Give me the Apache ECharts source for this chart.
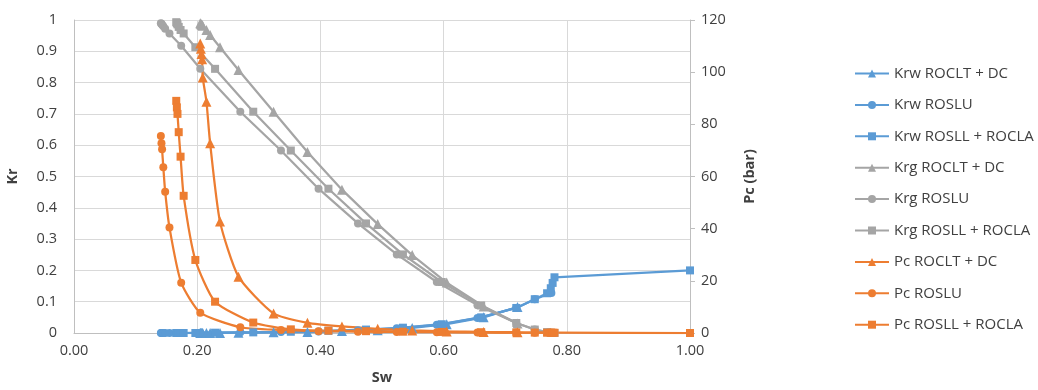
<!DOCTYPE html>
<html>
<head>
<meta charset="utf-8">
<script src="https://cdn.jsdelivr.net/npm/echarts@6/dist/echarts.min.js"></script>
<style>
  html, body { margin: 0; padding: 0; background: #fff; }
  #chart { width: 1038px; height: 390px; }
</style>
</head>
<body>
<div id="chart"></div>
<script>
// Saturation grids (Sw) for each test set
const swCLT = [0.205, 0.206, 0.207, 0.208, 0.209, 0.215, 0.221, 0.237, 0.267, 0.324, 0.379, 0.435, 0.493, 0.549, 0.605, 0.665, 0.720];
const swSLU = [0.141, 0.142, 0.143, 0.145, 0.148, 0.155, 0.174, 0.205, 0.270, 0.336, 0.397, 0.461, 0.524, 0.589, 0.655, 0.718, 0.748, 0.775];
const swSLL = [0.166, 0.167, 0.168, 0.170, 0.173, 0.178, 0.197, 0.229, 0.291, 0.352, 0.413, 0.474, 0.534, 0.597, 0.661, 0.718, 0.748, 0.768, 0.774, 0.777, 0.780, 1.000];

// Water relative permeability
const krwCLT = [0, 0, 0, 0, 0, 0, 0, 0, 0.001, 0.002, 0.003, 0.006, 0.009, 0.016, 0.028, 0.050, 0.083];
const krwSLU = [0, 0, 0, 0, 0, 0, 0, 0.001, 0.002, 0.003, 0.005, 0.009, 0.015, 0.026, 0.048, 0.080, 0.108, 0.128];
const krwSLL = [0, 0, 0, 0, 0, 0, 0, 0.001, 0.002, 0.004, 0.007, 0.011, 0.017, 0.028, 0.050, 0.080, 0.108, 0.127, 0.143, 0.160, 0.178, 0.200];

// Gas relative permeability
const krgCLT = [0.990, 0.988, 0.986, 0.984, 0.982, 0.968, 0.952, 0.913, 0.840, 0.707, 0.578, 0.458, 0.348, 0.249, 0.161, 0.085, 0.030];
const krgSLU = [0.990, 0.988, 0.985, 0.980, 0.972, 0.957, 0.918, 0.844, 0.707, 0.583, 0.461, 0.350, 0.251, 0.163, 0.089, 0.032, 0.011, 0];
const krgSLL = [0.993, 0.990, 0.986, 0.978, 0.968, 0.957, 0.913, 0.844, 0.707, 0.583, 0.461, 0.350, 0.251, 0.163, 0.088, 0.032, 0.011, 0.003, 0.001, 0, 0, null];

// Capillary pressure (bar)
const pcCLT = [111, 109, 107, 105, 98, 88.7, 72.7, 42.7, 21.6, 7.5, 3.9, 2.5, 1.6, 1.0, 0.6, 0.4, 0.3];
const pcSLU = [75.5, 72.7, 70.4, 63.5, 54.2, 40.4, 19.3, 7.8, 2.2, 1.15, 0.7, 0.5, 0.4, 0.3, 0.2, 0.15, 0.1, 0.1];
const pcSLL = [89, 86.5, 84, 77, 67.6, 52.6, 28, 12, 4, 1.4, 0.9, 0.7, 0.5, 0.4, 0.3, 0.2, 0.15, 0.1, 0.1, 0.1, 0.1, 0];

const xTicks = { min: 0, max: 1, step: 0.2 };
const krTicks = { min: 0, max: 1, step: 0.1 };
const pcTicks = { min: 0, max: 120, step: 20 };

const BLUE = '#5b9bd5', GRAY = '#a5a5a5', ORANGE = '#ed7d31';
const FONT = '"Open Sans", "Noto Sans", sans-serif';

function pairs(xs, ys) {
  return xs.map((x, i) => [x, ys[i]]).filter(p => p[1] !== null && p[1] !== undefined);
}

function line(name, xs, ys, color, symbol, axis, smooth) {
  return {
    name: name,
    type: 'line',
    yAxisIndex: axis,
    data: pairs(xs, ys),
    symbol: symbol,
    symbolSize: symbol === 'triangle' ? 10 : 8,
    smooth: smooth ? 0.2 : false,
    lineStyle: { color: color, width: 2.25 },
    itemStyle: { color: color },
    emphasis: { disabled: true },
    animation: false
  };
}

const series = [
  line('Krw ROCLT + DC', swCLT, krwCLT, BLUE, 'triangle', 0, false),
  line('Krw ROSLU', swSLU, krwSLU, BLUE, 'circle', 0, false),
  line('Krw ROSLL + ROCLA', swSLL, krwSLL, BLUE, 'rect', 0, false),
  line('Krg ROCLT + DC', swCLT, krgCLT, GRAY, 'triangle', 0, false),
  line('Krg ROSLU', swSLU, krgSLU, GRAY, 'circle', 0, false),
  line('Krg ROSLL + ROCLA', swSLL, krgSLL, GRAY, 'rect', 0, false),
  line('Pc ROCLT + DC', swCLT, pcCLT, ORANGE, 'triangle', 1, true),
  line('Pc ROSLU', swSLU, pcSLU, ORANGE, 'circle', 1, true),
  line('Pc ROSLL + ROCLA', swSLL, pcSLL, ORANGE, 'rect', 1, true)
];

const axisText = { color: '#404040', fontFamily: FONT, fontSize: 14.5 };
const nameText = { color: '#404040', fontFamily: FONT, fontSize: 14.5, fontWeight: 'bold' };

const chart = echarts.init(document.getElementById('chart'), null, { renderer: 'canvas' });
chart.setOption({
  animation: false,
  backgroundColor: '#ffffff',
  grid: { left: 74, right: 348, top: 20, bottom: 57, containLabel: false, outerBoundsMode: 'none' },
  legend: {
    orient: 'vertical',
    left: 849,
    top: 61,
    itemWidth: 34,
    itemHeight: 10,
    itemGap: 16.4,
    textStyle: { color: '#404040', fontFamily: FONT, fontSize: 15 },
    data: series.map(s => s.name)
  },
  xAxis: {
    type: 'value',
    min: xTicks.min, max: xTicks.max, interval: xTicks.step,
    name: 'Sw', nameLocation: 'middle', nameGap: 37, nameTextStyle: nameText,
    axisLine: { show: true, lineStyle: { color: '#bfbfbf', width: 1 } },
    axisTick: { show: false },
    axisLabel: { ...axisText, margin: 10, formatter: v => v.toFixed(2) },
    splitLine: { show: true, lineStyle: { color: '#d9d9d9', width: 1 } }
  },
  yAxis: [
    {
      type: 'value',
      min: krTicks.min, max: krTicks.max, interval: krTicks.step,
      name: 'Kr', nameLocation: 'middle', nameGap: 54, nameRotate: 90, nameTextStyle: nameText,
      axisLine: { show: true, lineStyle: { color: '#bfbfbf', width: 1 } },
      axisTick: { show: false },
      axisLabel: { ...axisText, margin: 17, formatter: v => String(Math.round(v * 10) / 10) },
      splitLine: { show: true, lineStyle: { color: '#d9d9d9', width: 1 } }
    },
    {
      type: 'value',
      position: 'right',
      min: pcTicks.min, max: pcTicks.max, interval: pcTicks.step,
      name: 'Pc (bar)', nameLocation: 'middle', nameGap: 52, nameRotate: 90, nameTextStyle: nameText,
      axisLine: { show: true, lineStyle: { color: '#bfbfbf', width: 1 } },
      axisTick: { show: true, length: 5, inside: false, lineStyle: { color: '#bfbfbf' } },
      axisLabel: { ...axisText, margin: 11 },
      splitLine: { show: false }
    }
  ],
  series: series
});
</script>
</body>
</html>
